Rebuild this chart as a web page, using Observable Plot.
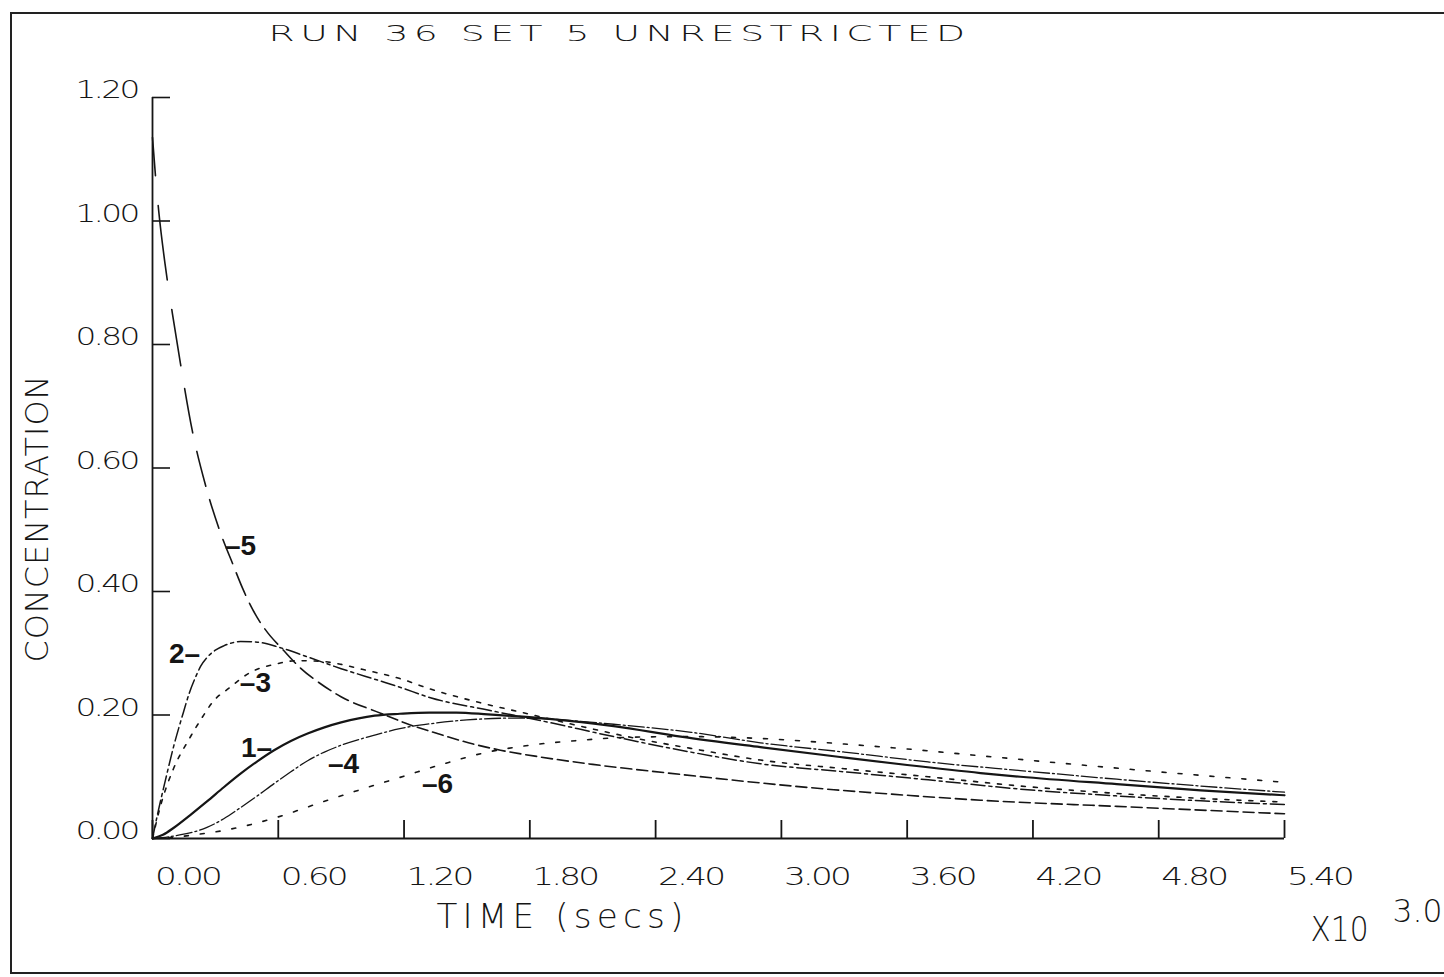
<!DOCTYPE html>
<html><head><meta charset="utf-8">
<script src="https://cdn.jsdelivr.net/npm/d3@7"></script>
<script src="https://cdn.jsdelivr.net/npm/@observablehq/plot@0.6"></script>
<style>
html,body{margin:0;padding:0;background:#fff;}
#wrap{position:relative;width:1444px;height:977px;overflow:hidden;background:#fff;}
#border{position:absolute;left:10px;top:12px;width:1500px;height:962px;border:2px solid #222;box-sizing:border-box;}
#chart{position:absolute;left:0;top:0;}
</style></head><body>
<div id="wrap"><div id="border"></div><div id="chart"></div></div>
<script>
// ---- text ----
const title = "RUN 36 SET 5 UNRESTRICTED";
const xLabel = "TIME (secs)";
const yLabel = "CONCENTRATION";
const xMultiplier = "X10";
const xExponent = "3.0";

// ---- ticks ----
const xTicks = [0, 0.6, 1.2, 1.8, 2.4, 3.0, 3.6, 4.2, 4.8, 5.4];
const xTickLabels = ["0.00", "0.60", "1.20", "1.80", "2.40", "3.00", "3.60", "4.20", "4.80", "5.40"];
const yTicks = [0, 0.2, 0.4, 0.6, 0.8, 1.0, 1.2];
const yTickLabels = ["0.00", "0.20", "0.40", "0.60", "0.80", "1.00", "1.20"];

// ---- series (time x10^3 s, concentration) ----
const c1T = [0, 0.05, 0.1, 0.18, 0.26, 0.34, 0.42, 0.5, 0.58, 0.66, 0.74, 0.82, 0.9, 1.06, 1.18, 1.32, 1.45, 1.6, 1.88, 2.2, 2.52, 2.9, 3.28, 3.6, 3.95, 4.14, 4.6, 5.0, 5.4];
const c1C = [0, 0.006, 0.017, 0.038, 0.060, 0.083, 0.105, 0.125, 0.143, 0.158, 0.170, 0.180, 0.188, 0.199, 0.202, 0.204, 0.204, 0.201, 0.194, 0.182, 0.165, 0.148, 0.132, 0.119, 0.106, 0.100, 0.088, 0.078, 0.070];

const c2T = [0, 0.022, 0.062, 0.10, 0.148, 0.175, 0.205, 0.23, 0.26, 0.30, 0.34, 0.42, 0.50, 0.61, 0.74, 0.9, 1.088, 1.18, 1.326, 1.6, 1.85, 2.2, 2.567, 2.9, 3.3, 3.7, 4.14, 4.6, 5.0, 5.4];
const c2C = [0, 0.036, 0.095, 0.148, 0.205, 0.235, 0.261, 0.279, 0.293, 0.305, 0.312, 0.319, 0.318, 0.309, 0.294, 0.275, 0.255, 0.245, 0.228, 0.208, 0.191, 0.165, 0.140, 0.121, 0.108, 0.095, 0.080, 0.069, 0.061, 0.055];

const c3T = [0, 0.04, 0.1, 0.173, 0.237, 0.292, 0.363, 0.467, 0.594, 0.69, 0.8, 0.9, 1.0, 1.18, 1.326, 1.55, 1.79, 2.04, 2.28, 2.567, 2.9, 3.3, 3.7, 4.14, 4.6, 5.0, 5.4];
const c3C = [0, 0.055, 0.113, 0.160, 0.196, 0.223, 0.243, 0.269, 0.283, 0.288, 0.287, 0.282, 0.274, 0.259, 0.242, 0.221, 0.202, 0.182, 0.164, 0.146, 0.127, 0.113, 0.100, 0.085, 0.073, 0.065, 0.059];

const c4T = [0, 0.1, 0.26, 0.34, 0.42, 0.5, 0.58, 0.66, 0.74, 0.82, 0.9, 1.055, 1.18, 1.33, 1.5, 1.72, 1.85, 2.2, 2.57, 2.9, 3.3, 3.7, 4.14, 4.6, 5.0, 5.4];
const c4C = [0, 0.004, 0.018, 0.032, 0.050, 0.069, 0.089, 0.108, 0.126, 0.140, 0.151, 0.167, 0.178, 0.186, 0.192, 0.195, 0.194, 0.185, 0.172, 0.155, 0.140, 0.124, 0.110, 0.096, 0.085, 0.075];

const c5T = [0, 0.015, 0.03, 0.06, 0.095, 0.133, 0.19, 0.253, 0.315, 0.387, 0.43, 0.467, 0.51, 0.55, 0.619, 0.706, 0.8, 0.897, 1.088, 1.23, 1.33, 1.53, 1.66, 1.85, 2.1, 2.46, 2.9, 3.25, 3.6, 3.95, 4.6, 5.0, 5.4];
const c5C = [1.135, 1.07, 1.015, 0.93, 0.85, 0.77, 0.66, 0.572, 0.504, 0.441, 0.405, 0.378, 0.352, 0.333, 0.307, 0.276, 0.251, 0.230, 0.203, 0.184, 0.173, 0.153, 0.143, 0.132, 0.120, 0.106, 0.090, 0.079, 0.070, 0.062, 0.052, 0.046, 0.040];

const c6T = [0, 0.1, 0.2, 0.34, 0.45, 0.6, 0.8, 1.0, 1.2, 1.4, 1.6, 1.8, 2.04, 2.28, 2.567, 2.9, 3.3, 3.6, 3.95, 4.4, 4.8, 5.4];
const c6C = [0, 0.002, 0.006, 0.013, 0.021, 0.035, 0.058, 0.080, 0.101, 0.122, 0.140, 0.151, 0.159, 0.164, 0.165, 0.162, 0.153, 0.145, 0.134, 0.120, 0.108, 0.091];

// ---- curve labels ----
const curveLabels = ["1\u2013", "2\u2013", "\u20133", "\u20134", "\u20135", "\u20136"];
const labelT = [0.496, 0.153, 0.491, 0.911, 0.420, 1.36];
const labelC = [0.147, 0.298, 0.251, 0.121, 0.473, 0.089];

const zip = (T, C) => T.map((t, i) => ({t, c: C[i]}));
const s1 = zip(c1T, c1C), s2 = zip(c2T, c2C), s3 = zip(c3T, c3C),
      s4 = zip(c4T, c4C), s5 = zip(c5T, c5C), s6 = zip(c6T, c6C);
const labels = curveLabels.map((s, i) => ({s, t: labelT[i], c: labelC[i]}));

// pen-plotter style dash for curve 5: long dashes on the steep part, shortening along the curve
const dash5 = "38,30,75,30,57,23,45,19,36,14,30,12,26,10,24,9,22,8,20,8,18,7,16,7,15,6,14,6,13,6,12,5," +
  Array(90).fill("11,5").join(",");

const ink = "#151515";
const lineOpts = (extra) => ({x: "t", y: "c", stroke: ink, curve: "monotone-x", ...extra});
const font = "DejaVu Sans";
const tag = (name) => () => name;

const plot = Plot.plot({
  width: 1444, height: 977,
  marginLeft: 152, marginRight: 160, marginTop: 97, marginBottom: 139,
  x: {domain: [0, 5.4], axis: null},
  y: {domain: [0, 1.2], axis: null},
  style: {background: "transparent", fontFamily: font, color: ink, overflow: "visible"},
  marks: [
    // axes lines and inward ticks
    Plot.ruleX([0], {stroke: ink, strokeWidth: 1.8}),
    Plot.ruleY([0], {stroke: ink, strokeWidth: 2}),
    Plot.ruleY(yTicks, {y: d => d, stroke: ink, strokeWidth: 1.6, insetRight: 1114}),
    Plot.ruleX(xTicks, {x: d => d, stroke: ink, strokeWidth: 1.8, insetTop: 723}),
    // tick labels
    Plot.text(xTicks, {x: d => d, text: (d, i) => xTickLabels[i], frameAnchor: "bottom", lineAnchor: "middle", textAnchor: "middle", dx: 35, dy: 39, fontSize: 24, fontWeight: 300, ariaLabel: tag("xticklabel")}),
    Plot.text(yTicks, {y: d => d, text: (d, i) => yTickLabels[i], frameAnchor: "left", lineAnchor: "middle", textAnchor: "end", dx: -15, dy: -7, fontSize: 24, fontWeight: 300, ariaLabel: tag("yticklabel")}),
    // axis titles
    Plot.text([yLabel], {text: d => d, frameAnchor: "left", lineAnchor: "middle", textAnchor: "middle", dx: -115, dy: 51, rotate: -90, fontSize: 32, fontWeight: 300, ariaLabel: tag("ylabel")}),
    Plot.text([xLabel], {text: d => d, frameAnchor: "bottom", lineAnchor: "middle", textAnchor: "middle", dx: -156, dy: 79, fontSize: 33, fontWeight: 300, ariaLabel: tag("xlabel")}),
    Plot.text([xMultiplier], {text: d => d, frameAnchor: "bottom-right", lineAnchor: "middle", textAnchor: "middle", dx: 55, dy: 92, fontSize: 33, fontWeight: 300, ariaLabel: tag("xmult")}),
    Plot.text([xExponent], {text: d => d, frameAnchor: "bottom-right", lineAnchor: "middle", textAnchor: "start", dx: 108, dy: 73, fontSize: 32, fontWeight: 300, ariaLabel: tag("xexp")}),
    // title
    Plot.text([title], {text: d => d, frameAnchor: "top", lineAnchor: "middle", textAnchor: "middle", dx: -99, dy: -64, fontSize: 22, fontWeight: 300, ariaLabel: tag("title")}),
    // curves
    Plot.line(s6, lineOpts({strokeWidth: 1.6, strokeDasharray: "4,12"})),
    Plot.line(s3, lineOpts({strokeWidth: 1.6, strokeDasharray: "4,8"})),
    Plot.line(s4, lineOpts({strokeWidth: 1.3, strokeDasharray: "16,3,2,3"})),
    Plot.line(s2, lineOpts({strokeWidth: 1.5, strokeDasharray: "14,4,3,4"})),
    Plot.line(s5, lineOpts({strokeWidth: 1.6, strokeDasharray: dash5})),
    Plot.line(s1, lineOpts({strokeWidth: 2.2})),
    // curve labels
    Plot.text(labels, {x: "t", y: "c", text: "s", fontFamily: "Liberation Sans", fontWeight: "bold", fontSize: 28, fill: ink})
  ]
});
document.getElementById("chart").appendChild(plot);

const svg = d3.select(plot);
const fit = (name, len, spacing, mode) => svg.selectAll(`text[aria-label="${name}"]`)
  .style("letter-spacing", spacing + "px")
  .attr("textLength", len)
  .attr("lengthAdjust", mode);
fit("title", 702, 3.2, "spacingAndGlyphs");
fit("xticklabel", 65, -2, "spacingAndGlyphs");
fit("yticklabel", 62, -2, "spacingAndGlyphs");
fit("ylabel", 287, 0, "spacing");
fit("xlabel", 252, 5, "spacingAndGlyphs");
fit("xmult", 58, 0, "spacingAndGlyphs");
fit("xexp", 50, 0, "spacingAndGlyphs");
</script>
</body></html>
